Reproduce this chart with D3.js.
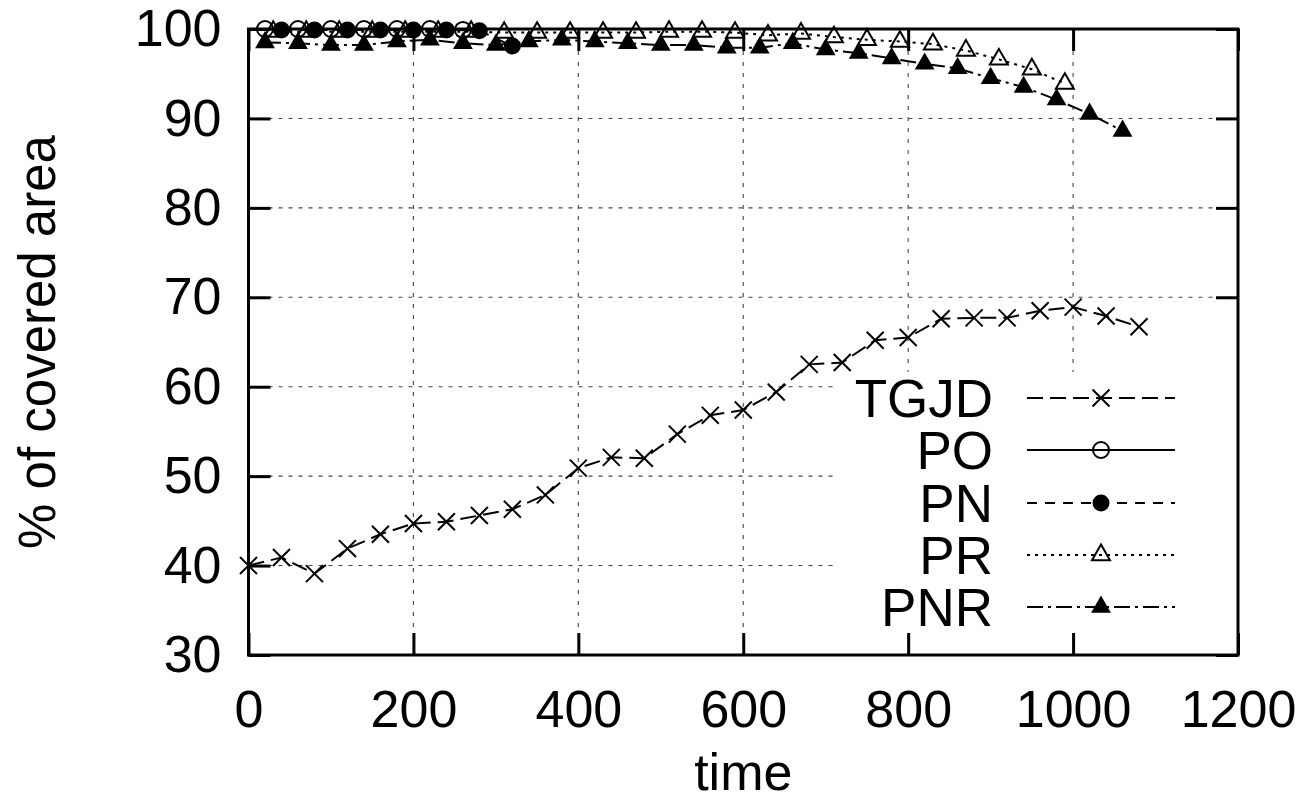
<!DOCTYPE html>
<html>
<head>
<meta charset="utf-8">
<script src="https://cdn.jsdelivr.net/npm/d3@7"></script>
<style>
  html, body { margin: 0; padding: 0; background: #fff; }
  svg { display: block; font-family: "Liberation Sans", Arial, Helvetica, sans-serif; }
</style>
</head>
<body>
<svg id="chart" width="1307" height="808"></svg>
<script>
// Coverage over time for each algorithm
const tgjdTime = [0, 40, 80, 120, 160, 200, 240, 280, 320, 360, 400, 440, 480, 520,
                  560, 600, 640, 680, 720, 760, 800, 840, 880, 920, 960, 1000, 1040, 1080];
const tgjdCover = [40.0, 40.9, 39.1, 41.9, 43.5, 44.7, 44.9, 45.6, 46.3, 47.9, 50.9, 52.1, 52.0, 54.7,
                   56.8, 57.4, 59.4, 62.5, 62.7, 65.2, 65.5, 67.6, 67.7, 67.7, 68.5, 68.9, 67.9, 66.7];

const poTime = [20, 60, 100, 140, 180, 220, 260];
const poCover = [100, 100, 100, 100, 100, 100, 99.9];

const pnTime = [40, 80, 120, 160, 200, 240, 280, 320];
const pnCover = [99.9, 99.9, 99.9, 99.9, 99.9, 99.9, 99.8, 98.1];

const prTime = [30, 70, 110, 150, 190, 230, 270, 310, 350, 390, 430, 470, 510,
                550, 590, 630, 670, 710, 750, 790, 830, 870, 910, 950, 990];
const prCover = [99.7, 99.7, 99.7, 99.7, 99.7, 99.7, 99.7, 99.6, 99.6, 99.6, 99.6, 99.6, 99.7,
                 99.7, 99.6, 99.3, 99.5, 99.1, 98.8, 98.6, 98.3, 97.6, 96.6, 95.5, 93.9];

const pnrTime = [20, 60, 100, 140, 180, 220, 260, 300, 340, 380, 420, 460, 500, 540,
                 580, 620, 660, 700, 740, 780, 820, 860, 900, 940, 980, 1020, 1060];
const pnrCover = [98.5, 98.4, 98.2, 98.2, 98.6, 98.8, 98.4, 98.2, 98.6, 98.8, 98.6, 98.4, 98.2, 98.2,
                  97.9, 97.9, 98.4, 97.7, 97.3, 96.7, 96.1, 95.6, 94.5, 93.5, 92.1, 90.5, 88.6];

const xTicks = [0, 200, 400, 600, 800, 1000, 1200];
const yTicks = [30, 40, 50, 60, 70, 80, 90, 100];
const seriesNames = ["TGJD", "PO", "PN", "PR", "PNR"];

const zip = (xs, ys) => xs.map((t, i) => ({ t, v: ys[i] }));

const series = [
  { name: seriesNames[0], data: zip(tgjdTime, tgjdCover), dash: "16,7",     marker: "cross" },
  { name: seriesNames[1], data: zip(poTime, poCover),     dash: null,       marker: "circle" },
  { name: seriesNames[2], data: zip(pnTime, pnCover),     dash: "10,8",     marker: "disc" },
  { name: seriesNames[3], data: zip(prTime, prCover),     dash: "3,5",      marker: "triangle" },
  { name: seriesNames[4], data: zip(pnrTime, pnrCover),   dash: "16,5,3,5", marker: "filledTriangle" }
];

const svg = d3.select("#chart");
const x = d3.scaleLinear().domain([0, 1200]).range([248.5, 1238]);
const y = d3.scaleLinear().domain([30, 100]).range([655, 29]);
const [x0, x1] = x.range();
const [y0, y1] = [y(100), y(30)];
const intFmt = d3.format("d");

// Dotted grid
const grid = svg.append("g").attr("stroke", "#444").attr("stroke-width", 1.1);
grid.selectAll("line.h").data(yTicks.filter(v => v > 30 && v < 100)).join("line")
  .attr("x1", x0).attr("x2", x1).attr("y1", d => y(d)).attr("y2", d => y(d))
  .attr("stroke-dasharray", "4,6");
grid.selectAll("line.v").data(xTicks.filter(v => v > 0 && v < 1200)).join("line")
  .attr("x1", d => x(d)).attr("x2", d => x(d)).attr("y1", y0).attr("y2", y1)
  .attr("stroke-dasharray", "4,7");

// Mirrored inward ticks on all four sides
const tickLen = 22;
const styleAxis = g => {
  g.select(".domain").remove();
  g.selectAll(".tick line").attr("stroke", "#000").attr("stroke-width", 3);
  g.selectAll("text").attr("font-size", 52).attr("fill", "#000")
    .attr("font-family", "Liberation Sans, Arial, sans-serif");
};
svg.append("g").attr("transform", `translate(${x1},0)`)
  .call(d3.axisRight(y).tickValues(yTicks).tickSize(-tickLen).tickFormat(""))
  .call(styleAxis);
svg.append("g").attr("transform", `translate(0,${y0})`)
  .call(d3.axisTop(x).tickValues(xTicks).tickSize(-tickLen).tickFormat(""))
  .call(styleAxis);

// Key background hides the grid behind it
svg.append("rect").attr("x", 836).attr("y", 372).attr("width", x1 - 836).attr("height", y1 - 372)
  .attr("fill", "#fff");

svg.append("g").attr("transform", `translate(${x0},0)`)
  .call(d3.axisLeft(y).tickValues(yTicks).tickSize(-tickLen).tickPadding(27).tickFormat(intFmt))
  .call(styleAxis);
svg.append("g").attr("transform", `translate(0,${y1})`)
  .call(d3.axisBottom(x).tickValues(xTicks).tickSize(-tickLen).tickPadding(35).tickFormat(intFmt))
  .call(styleAxis);

// Markers
function drawMarker(sel, kind) {
  if (kind === "cross") {
    sel.append("path").attr("d", d3.symbol(d3.symbolTimes, 190)())
      .attr("fill", "none").attr("stroke", "#000").attr("stroke-width", 2);
  } else if (kind === "circle") {
    sel.append("circle").attr("r", 8).attr("fill", "none").attr("stroke", "#000").attr("stroke-width", 2);
  } else if (kind === "disc") {
    sel.append("circle").attr("r", 8.5).attr("fill", "#000");
  } else if (kind === "triangle") {
    sel.append("path").attr("d", d3.symbol(d3.symbolTriangle, 140)())
      .attr("fill", "none").attr("stroke", "#000").attr("stroke-width", 2);
  } else {
    sel.append("path").attr("d", d3.symbol(d3.symbolTriangle, 170)()).attr("fill", "#000");
  }
}

const line = d3.line().x(d => x(d.t)).y(d => y(d.v));
series.forEach(s => {
  const g = svg.append("g");
  g.append("path").datum(s.data).attr("d", line)
    .attr("fill", "none").attr("stroke", "#000").attr("stroke-width", 2)
    .attr("stroke-dasharray", s.dash);
  g.selectAll("g.pt").data(s.data).join("g")
    .attr("transform", d => `translate(${x(d.t)},${y(d.v)})`)
    .each(function () { drawMarker(d3.select(this), s.marker); });
});

// Key
const keyRows = [398, 450, 503, 555, 607];
series.forEach((s, i) => {
  const ky = keyRows[i];
  svg.append("text").attr("x", 993).attr("y", ky + 19).attr("text-anchor", "end")
    .attr("font-size", 53).attr("fill", "#000").text(s.name);
  svg.append("line").attr("x1", 1027).attr("x2", 1175).attr("y1", ky).attr("y2", ky)
    .attr("stroke", "#000").attr("stroke-width", 2).attr("stroke-dasharray", s.dash);
  const m = svg.append("g").attr("transform", `translate(1101,${ky})`);
  drawMarker(m, s.marker);
});

// Frame
svg.append("rect").attr("x", x0).attr("y", y0).attr("width", x1 - x0).attr("height", y1 - y0)
  .attr("fill", "none").attr("stroke", "#000").attr("stroke-width", 3);

// Axis titles
svg.append("text").attr("x", (x0 + x1) / 2).attr("y", 790).attr("text-anchor", "middle")
  .attr("font-size", 52).text("time");
svg.append("text").attr("transform", `translate(55,${(y0 + y1) / 2}) rotate(-90)`)
  .attr("text-anchor", "middle").attr("font-size", 51).text("% of covered area");
</script>
</body>
</html>
